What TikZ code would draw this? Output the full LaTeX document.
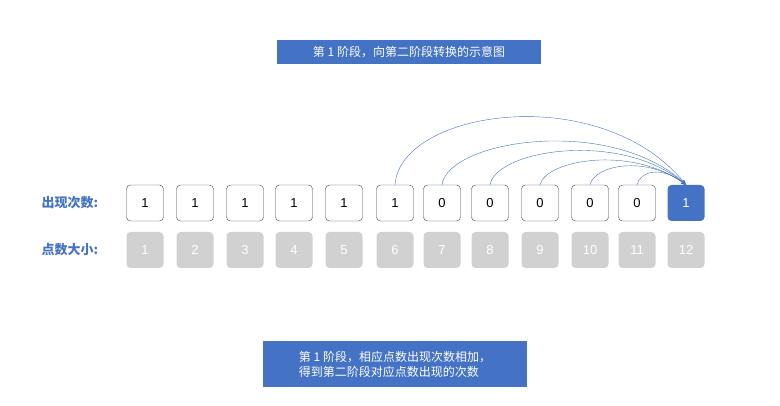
\documentclass[tikz,border=0pt]{standalone}
\usepackage{fontspec}
\usetikzlibrary{arrows.meta}
\newfontfamily\cjk{Noto Sans CJK SC}
\setmainfont{Liberation Sans}
\begin{document}
\begin{tikzpicture}[x=1pt,y=-1pt,
  cnt/.style={draw=black!75,rounded corners=4pt,minimum width=37pt,minimum height=36pt,inner sep=0,font=\fontsize{13}{13}\selectfont},
  num/.style={fill=black!18,rounded corners=4pt,minimum width=37pt,minimum height=36pt,inner sep=0,text=white,font=\fontsize{13}{13}\selectfont},
  hl/.style={cnt,draw=none,text=white},
  title/.style={text=white,font=\cjk\fontsize{12}{15}\selectfont,inner sep=0},
  lab/.style={font=\cjk\bfseries\fontsize{13}{13}\selectfont},
  arc/.style={thin,-{Stealth[length=5pt,width=4pt]}}]
\useasboundingbox (0,0) rectangle (780,406);
\definecolor{myblue}{RGB}{68,114,196}
\tikzset{hl/.append style={fill=myblue},title/.append style={fill=myblue},lab/.append style={text=myblue},arc/.append style={draw=myblue}}
\node[title,minimum width=264pt,minimum height=24pt] (t1) at (409,52) {第 1 阶段，向第二阶段转换的示意图};
\node[title,minimum width=264pt,minimum height=46pt,align=left] (t2) at (395,364) {第 1 阶段，相应点数出现次数相加，\\得到第二阶段对应点数出现的次数};
\node[lab] (l1) at (70,203) {出现次数:};
\node[lab] (l2) at (70,250) {点数大小:};
\foreach \i/\x/\v in {1/145/1,2/195/1,3/245/1,4/294/1,5/344/1,6/395/1,7/442/0,8/490/0,9/540/0,10/590/0,11/637/0}
  \node[cnt] (c\i) at (\x,203) {\v};
\node[hl] (c12) at (686,203) {1};
\foreach \i/\x in {1/145,2/195,3/245,4/294,5/344,6/395,7/442,8/490,9/540,10/590,11/637,12/686}
  \node[num] (n\i) at (\x,250) {\i};
\draw[arc] (c6.north) .. controls (400,110) and (600,80) .. (c12.north);
\draw[arc] (c7.north) .. controls (448,140) and (610,115) .. (c12.north);
\draw[arc] (c8.north) .. controls (496,150) and (620,130) .. (c12.north);
\draw[arc] (c9.north) .. controls (546,160) and (630,145) .. (c12.north);
\draw[arc] (c10.north) .. controls (595,165) and (645,155) .. (c12.north);
\draw[arc] (c11.north) .. controls (640,172) and (660,165) .. (c12.north);
\end{tikzpicture}
\end{document}
